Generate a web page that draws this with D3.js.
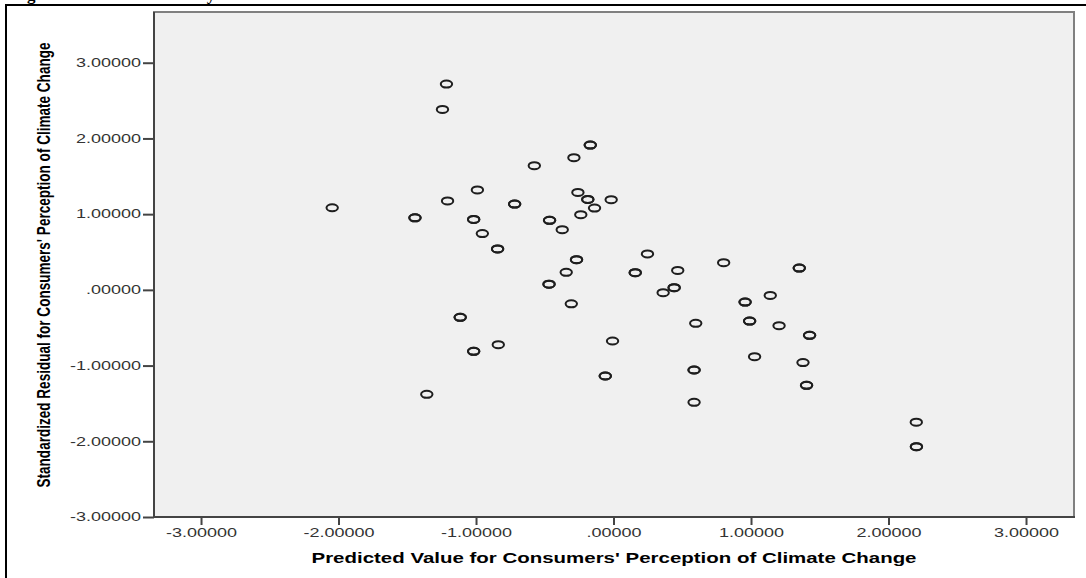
<!DOCTYPE html>
<html>
<head>
<meta charset="utf-8">
<script src="https://cdn.jsdelivr.net/npm/d3@7"></script>
<style>
body { margin: 0; background: #fff; }
svg { display: block; }
</style>
</head>
<body>
<svg id="chart"></svg>
<script>
//size of the page and the plot box
var width = 1086, height = 578;
var plot = {left: 154, top: 12, right: 1074, bottom: 517};

//cases: predicted value (x) and standardized residual (y)
//repeated pairs are overlapping cases (drawn darker)
var predicted = [
  -1.215, -1.244, -2.046, -1.444, -1.444, -1.207, -0.990, -1.017, -1.017, -0.954,
  -0.843, -0.843, -0.169, -0.169, -0.288, -0.576, -0.719, -0.719, -0.259, -0.187,
  -0.187, -0.138, -0.017, -0.238, -0.465, -0.465, -0.373, -0.269, -0.269, -0.344,
  -0.469, -0.469, -0.307, -1.115, -1.115, 0.247, 0.158, 0.158, -0.838, -1.017,
  -1.017, -0.007, -0.060, -0.060, -1.358, 0.467, 0.801, 1.351, 1.351, 0.361,
  0.441, 0.441, 0.957, 0.957, 1.140, 0.598, 0.990, 0.990, 1.204, 1.426,
  1.426, 1.026, 0.586, 0.586, 1.378, 1.404, 1.404, 0.586, 2.202, 2.203,
  2.203
];
var residual = [
  2.718, 2.383, 1.085, 0.951, 0.951, 1.175, 1.320, 0.931, 0.931, 0.743,
  0.541, 0.541, 1.912, 1.912, 1.746, 1.640, 1.133, 1.133, 1.287, 1.195,
  1.195, 1.080, 1.191, 0.993, 0.918, 0.918, 0.795, 0.399, 0.399, 0.231,
  0.075, 0.075, -0.185, -0.363, -0.363, 0.475, 0.227, 0.227, -0.724, -0.812,
  -0.812, -0.676, -1.138, -1.138, -1.380, 0.257, 0.359, 0.288, 0.288, -0.037,
  0.029, 0.029, -0.161, -0.161, -0.073, -0.442, -0.412, -0.412, -0.473, -0.601,
  -0.601, -0.882, -1.059, -1.059, -0.961, -1.261, -1.261, -1.486, -1.747, -2.071,
  -2.071
];

//axes
var xTicks = [-3, -2, -1, 0, 1, 2, 3];
var yTicks = [-3, -2, -1, 0, 1, 2, 3];
var xTitle = "Predicted Value for Consumers' Perception of Climate Change";
var yTitle = "Standardized Residual for Consumers' Perception of Climate Change";
var caption = "Figure 4.5: Test of Linearity";

var points = predicted.map(function(d, i) { return {x: d, y: residual[i]}; });

var svg = d3.select('#chart')
    .attr('width', width)
    .attr('height', height);

var x = d3.scaleLinear().domain([-3.342, 3.349]).range([plot.left, plot.right]);
var y = d3.scaleLinear().domain([-3, 3.67]).range([plot.bottom, plot.top]);

//tick labels like "1.00000", ".00000", "-1.00000" (plain hyphen)
var fmt = function(d) {
  return d3.format('.5f')(d).replace('\u2212', '-').replace(/^(-?)0\./, '$1.');
};

//caption of the page, only its descenders show
svg.append('text')
    .attr('x', 12)
    .attr('y', 0)
    .attr('font-family', 'Liberation Serif, Times New Roman, serif')
    .attr('font-weight', 'bold')
    .attr('font-size', 17)
    .text(caption);

//outer frame
svg.append('rect')
    .attr('x', 6).attr('y', 5)
    .attr('width', 1100).attr('height', 620)
    .attr('fill', 'none')
    .attr('stroke', '#000')
    .attr('stroke-width', 2);

//plot background
svg.append('rect')
    .attr('x', plot.left).attr('y', plot.top)
    .attr('width', plot.right - plot.left)
    .attr('height', plot.bottom - plot.top)
    .attr('fill', '#f0f0f0')
    .attr('stroke', '#808080')
    .attr('stroke-width', 2);

//markers
svg.append('g')
    .selectAll('ellipse')
    .data(points)
    .enter().append('ellipse')
    .attr('cx', function(d) { return x(d.x); })
    .attr('cy', function(d) { return y(d.y); })
    .attr('rx', 5.7)
    .attr('ry', 3.5)
    .attr('fill', 'none')
    .attr('stroke', '#1e1e1e')
    .attr('stroke-width', 2);

//left axis
var yAxis = svg.append('g')
    .attr('transform', 'translate(' + plot.left + ',0)')
    .call(d3.axisLeft(y).tickValues(yTicks).tickSize(11).tickPadding(2).tickFormat(fmt));

//bottom axis
var xAxis = svg.append('g')
    .attr('transform', 'translate(0,' + plot.bottom + ')')
    .call(d3.axisBottom(x).tickValues(xTicks).tickSize(8).tickPadding(3).tickFormat(fmt));

[yAxis, xAxis].forEach(function(ax) {
  ax.select('.domain').remove();
  ax.selectAll('line').attr('stroke', '#444').attr('stroke-width', 2);
  ax.selectAll('text')
      .attr('font-family', 'Liberation Sans, Arial, sans-serif')
      .attr('font-size', 12)
      .attr('fill', '#333')
      .each(function() {
        var w = this.getComputedTextLength();
        d3.select(this)
          .attr('textLength', w * 1.5)
          .attr('lengthAdjust', 'spacingAndGlyphs');
      });
});

//darker left and bottom edges of the plot box
svg.append('line')
    .attr('x1', plot.left).attr('x2', plot.left)
    .attr('y1', plot.top).attr('y2', plot.bottom + 1)
    .attr('stroke', '#444').attr('stroke-width', 2);
svg.append('line')
    .attr('x1', plot.left - 1).attr('x2', plot.right + 1)
    .attr('y1', plot.bottom).attr('y2', plot.bottom)
    .attr('stroke', '#444').attr('stroke-width', 2);

//axis titles
svg.append('text')
    .attr('x', (plot.left + plot.right) / 2)
    .attr('y', 562.5)
    .attr('text-anchor', 'middle')
    .attr('font-family', 'Liberation Sans, Arial, sans-serif')
    .attr('font-weight', 'bold')
    .attr('font-size', 15)
    .attr('textLength', 605)
    .attr('lengthAdjust', 'spacingAndGlyphs')
    .text(xTitle);

svg.append('text')
    .attr('transform', 'translate(50,265) scale(1.45,1) rotate(-90)')
    .attr('text-anchor', 'middle')
    .attr('font-family', 'Liberation Sans, Arial, sans-serif')
    .attr('font-weight', 'bold')
    .attr('font-size', 13)
    .attr('textLength', 445)
    .attr('lengthAdjust', 'spacingAndGlyphs')
    .text(yTitle);
</script>
</body>
</html>
